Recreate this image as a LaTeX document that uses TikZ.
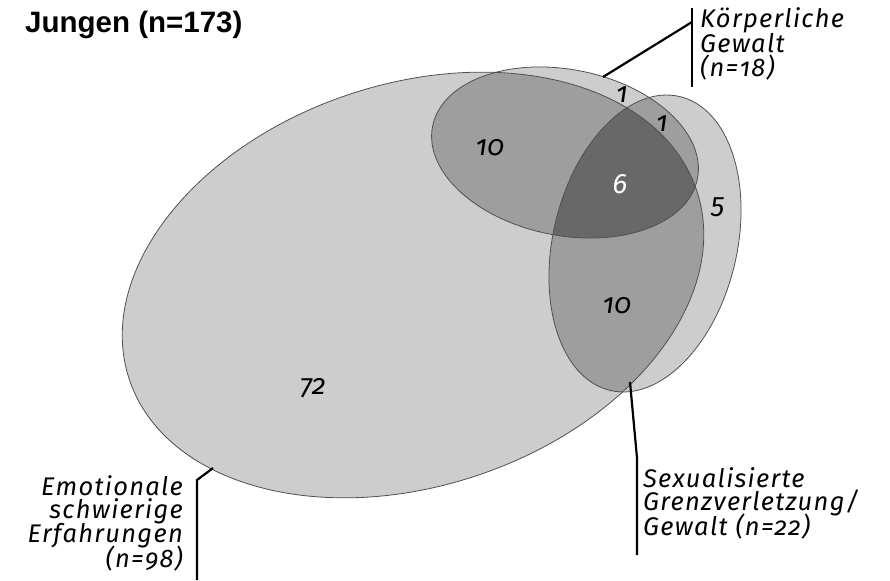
\documentclass[tikz,border=0pt]{standalone}
\usepackage{fontspec}
\newfontfamily\lab[Numbers=OldStyle,LetterSpace=5]{Fira Sans}
\newfontfamily\num[Numbers=OldStyle]{Fira Sans}
\newfontfamily\ttl{Liberation Sans}
\definecolor{lightg}{HTML}{CDCDCD}
\definecolor{midg}{HTML}{9E9E9E}
\definecolor{darkg}{HTML}{686868}
\definecolor{edgeg}{HTML}{505050}
\newcommand\Eell{(413,285) circle [x radius=299pt, y radius=201pt, rotate=18.4]}
\newcommand\Kell{(565,152.5) circle [x radius=135pt, y radius=83pt, rotate=-11.2]}
\newcommand\Sell{(645,243.5) circle [x radius=151pt, y radius=92pt, rotate=76.7]}
\begin{document}
\begin{tikzpicture}[x=1pt,y=-1pt,
  edge/.style={draw=edgeg,line width=0.8pt},
  leader/.style={draw=black,line width=2.2pt},
  labtext/.style={font=\lab\itshape\fontsize{25.5}{27}\selectfont,inner sep=0pt},
  numtext/.style={font=\num\itshape\fontsize{28}{30}\selectfont,inner sep=0pt}]
\useasboundingbox (0,0) rectangle (890,580);
% fills
\fill[lightg] \Eell;
\fill[lightg] \Kell;
\fill[lightg] \Sell;
\begin{scope}\clip \Eell; \fill[midg] \Kell; \fill[midg] \Sell; \end{scope}
\begin{scope}\clip \Kell; \fill[midg] \Sell; \end{scope}
\begin{scope}\clip \Eell; \clip \Kell; \fill[darkg] \Sell; \end{scope}
% outlines
\path[edge] \Eell;
\path[edge] \Kell;
\path[edge] \Sell;
% title
\node[anchor=base west,inner sep=0pt,font=\ttl\bfseries\fontsize{29.5}{32}\selectfont] (title) at (25,33) {Jungen (n=173)};
% region numbers
\node[numtext] (nEK) at (490,148) {10};
\node[numtext] (nK) at (622,95) {1};
\node[numtext] (nKS) at (662,124) {1};
\node[numtext,text=white] (nEKS) at (620,184) {6};
\node[numtext] (nS) at (718,207) {5};
\node[numtext] (nES) at (617,306) {10};
\node[numtext] (nE) at (313,388) {72};
% Koerperliche label
\node[labtext,anchor=base west] (k1) at (700,28) {Körperliche};
\node[labtext,anchor=base west] (k2) at (700,53) {Gewalt};
\node[labtext,anchor=base west] (k3) at (700,77) {(n=18)};
\coordinate (kA) at (603,77);
\coordinate (kB) at (692,22);
\coordinate (kT) at (692,8);
\coordinate (kD) at (692,87);
\draw[leader] (kA) -- (kB);
\draw[leader] (kT) -- (kD);
% Emotionale label
\node[labtext,anchor=base east] (e1) at (183,495) {Emotionale};
\node[labtext,anchor=base east] (e2) at (183,518) {schwierige};
\node[labtext,anchor=base east] (e3) at (183,542) {Erfahrungen};
\node[labtext,anchor=base east] (e4) at (183,567) {(n=98)};
\coordinate (eA) at (213,468);
\coordinate (eB) at (197,480);
\coordinate (eC) at (197,580);
\draw[leader] (eA) -- (eB) -- (eC);
% Sexualisierte label
\node[labtext,anchor=base west] (s1) at (643,487) {Sexualisierte};
\node[labtext,anchor=base west] (s2) at (643,510) {Grenzverletzung/};
\node[labtext,anchor=base west] (s3) at (643,535) {Gewalt (n=22)};
\coordinate (sA) at (630,382);
\coordinate (sB) at (637,458);
\coordinate (sC) at (637,555);
\draw[leader] (sA) -- (sB) -- (sC);
\end{tikzpicture}
\end{document}
